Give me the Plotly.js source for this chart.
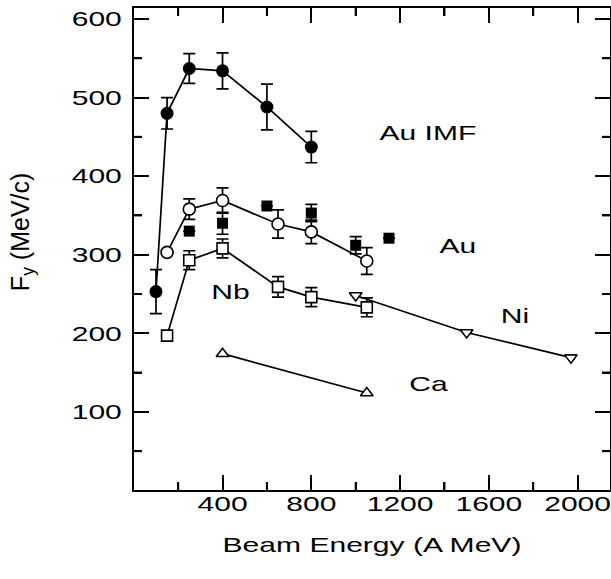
<!DOCTYPE html>
<html>
<head>
<meta charset="utf-8">
<script src="https://cdn.plot.ly/plotly-3.0.1.min.js"></script>
<style>
  html, body { margin: 0; padding: 0; background: #fff; }
  #chart { width: 611px; height: 579px; }
</style>
</head>
<body>
<div id="chart"></div>
<script>
// ---- data ----
var imfE   = [100, 150, 250, 400, 600, 800];
var imfF   = [253, 480, 537, 534, 488, 437];
var imfErr = [28, 20, 19, 23, 29, 20];

var auE    = [150, 250, 400, 650, 800, 1050];
var auF    = [303, 358, 369, 339, 329, 292];
var auErr  = [0, 13, 16, 18, 15, 17];

var auSqE   = [250, 400, 600, 800, 1000, 1150];
var auSqF   = [330, 340, 362, 353, 312, 321];
var auSqErr = [0, 14, 0, 11, 11, 0];

var nbE    = [150, 250, 400, 650, 800, 1050];
var nbF    = [197, 293, 308, 259, 246, 233];
var nbErr  = [0, 12, 12, 13, 12, 12];

var niE    = [1000, 1500, 1970];
var niF    = [248, 201, 169];

var caE    = [400, 1050];
var caF    = [174, 124];

var xMinorTicks = [200, 600, 1000, 1400, 1800];
var yMinorTicks = [50, 150, 250, 350, 450, 550];

var labels = [
  {text: 'Au IMF', x: 1328, y: 456},
  {text: 'Au',     x: 1463, y: 312},
  {text: 'Nb',     x: 436,  y: 253},
  {text: 'Ni',     x: 1716, y: 223},
  {text: 'Ca',     x: 1327, y: 136}
];

var xTitle = 'Beam Energy (A MeV)';
var yTitle = 'F<sub>y</sub> (MeV/c)';

var FONT = 'Liberation Sans, Arial, Helvetica, sans-serif';
var XRANGE = [1, 2146];
var YRANGE = [0.5, 614];
// minor tick length (8 px) expressed in axis units
var X_MINOR = 8 * (XRANGE[1] - XRANGE[0]) / 476;
var Y_MINOR = 8 * (YRANGE[1] - YRANGE[0]) / 482;

function errBar(arr) {
  return {type: 'data', array: arr, visible: true, color: 'black', thickness: 1.7, width: 6};
}

var data = [
  {x: imfE, y: imfF, mode: 'lines+markers', type: 'scatter',
   line: {color: 'black', width: 1.7},
   marker: {symbol: 'circle', size: 13, color: 'black'},
   error_y: errBar(imfErr)},
  {x: auE, y: auF, mode: 'lines+markers', type: 'scatter',
   line: {color: 'black', width: 1.7},
   marker: {symbol: 'circle', size: 12, color: 'white', line: {color: 'black', width: 1.6}},
   error_y: errBar(auErr)},
  {x: auSqE, y: auSqF, mode: 'markers', type: 'scatter',
   marker: {symbol: 'square', size: 11, color: 'black'},
   error_y: errBar(auSqErr)},
  {x: nbE, y: nbF, mode: 'lines+markers', type: 'scatter',
   line: {color: 'black', width: 1.7},
   marker: {symbol: 'square', size: 11, color: 'white', line: {color: 'black', width: 1.6}},
   error_y: errBar(nbErr)},
  {x: niE, y: niF, mode: 'lines+markers', type: 'scatter',
   line: {color: 'black', width: 1.7},
   marker: {symbol: 'triangle-down', size: 11, color: 'white', line: {color: 'black', width: 1.6}}},
  {x: caE, y: caF, mode: 'lines+markers', type: 'scatter',
   line: {color: 'black', width: 1.7},
   marker: {symbol: 'triangle-up', size: 11, color: 'white', line: {color: 'black', width: 1.6}}}
];

var annots = labels.map(function (l) {
  return {x: l.x, y: l.y, xref: 'x', yref: 'y', text: l.text, showarrow: false,
          font: {family: FONT, size: 21, color: 'black'}, xanchor: 'center', yanchor: 'middle'};
});
annots.push({x: 0, y: 0.535, xref: 'paper', yref: 'paper', xshift: -112, text: yTitle,
             textangle: -90, showarrow: false, xanchor: 'center', yanchor: 'middle',
             font: {family: FONT, size: 25, color: 'black'}});

// minor tick marks on all four sides (axis decoration)
var shapes = [];
xMinorTicks.forEach(function (v) {
  shapes.push({type: 'line', xref: 'x', yref: 'y', x0: v, x1: v,
               y0: YRANGE[0], y1: YRANGE[0] + Y_MINOR, line: {color: 'black', width: 2}});
  shapes.push({type: 'line', xref: 'x', yref: 'y', x0: v, x1: v,
               y0: YRANGE[1], y1: YRANGE[1] - Y_MINOR, line: {color: 'black', width: 2}});
});
yMinorTicks.forEach(function (v) {
  shapes.push({type: 'line', xref: 'x', yref: 'y', y0: v, y1: v,
               x0: XRANGE[0], x1: XRANGE[0] + X_MINOR, line: {color: 'black', width: 2}});
  shapes.push({type: 'line', xref: 'x', yref: 'y', y0: v, y1: v,
               x0: XRANGE[1], x1: XRANGE[1] - X_MINOR, line: {color: 'black', width: 2}});
});

var layout = {
  width: 611, height: 579,
  margin: {l: 134, r: 1, t: 8, b: 89},
  paper_bgcolor: 'white', plot_bgcolor: 'white',
  showlegend: false,
  font: {family: FONT, size: 21, color: 'black'},
  xaxis: {
    range: XRANGE,
    showgrid: false, zeroline: false,
    showline: true, linecolor: 'black', linewidth: 2, mirror: 'allticks',
    ticks: 'inside', ticklen: 15, tickwidth: 2, tickcolor: 'black',
    tickmode: 'linear', tick0: 400, dtick: 400,
    minor: {ticks: 'inside', ticklen: 8, tickwidth: 2, tickcolor: 'black', dtick: 200, tick0: 0},
    tickfont: {family: FONT, size: 21, color: 'black'},
    ticklabelstandoff: -6,
    title: {text: xTitle, font: {family: FONT, size: 21, color: 'black'}, standoff: 23}
  },
  yaxis: {
    range: YRANGE,
    showgrid: false, zeroline: false,
    showline: true, linecolor: 'black', linewidth: 2, mirror: 'allticks',
    ticks: 'inside', ticklen: 15, tickwidth: 2, tickcolor: 'black',
    tickmode: 'linear', tick0: 100, dtick: 100,
    minor: {ticks: 'inside', ticklen: 8, tickwidth: 2, tickcolor: 'black', dtick: 50, tick0: 0},
    tickfont: {family: FONT, size: 21, color: 'black'},
    ticklabelstandoff: 6
  },
  shapes: shapes,
  annotations: annots
};

function stretchText(gd) {
  var sel = gd.querySelectorAll('.xtick text, .ytick text, text.annotation-text, text.xtitle');
  sel.forEach(function (t) {
    if (t.querySelector('tspan')) return;
    var w = t.getComputedTextLength();
    if (w > 0) {
      t.setAttribute('textLength', (w * 1.43).toFixed(1));
      t.setAttribute('lengthAdjust', 'spacingAndGlyphs');
    }
  });
}

Plotly.newPlot('chart', data, layout, {displayModeBar: false, staticPlot: true}).then(stretchText);
</script>
</body>
</html>
